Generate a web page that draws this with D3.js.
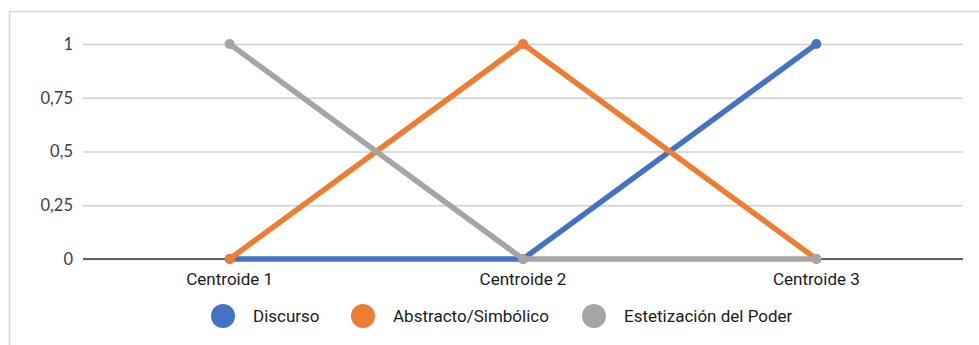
<!DOCTYPE html>
<html>
<head>
<meta charset="utf-8">
<script src="https://cdn.jsdelivr.net/npm/d3@7"></script>
<style>
  html, body { margin: 0; padding: 0; background: #fff; }
  svg { display: block; }
</style>
</head>
<body>
<svg id="chart" width="979" height="345"></svg>
<script>
// Categories along the x axis
const categories = ["Centroide 1", "Centroide 2", "Centroide 3"];

// Series names and their values per centroid
const seriesNames = ["Discurso", "Abstracto/Simbólico", "Estetización del Poder"];
const discurso = [0, 0, 1];
const abstracto = [0, 1, 0];
const estetizacion = [1, 0, 0];
const seriesColors = ["#4472C4", "#ED7D31", "#A5A5A5"];

// Y axis ticks and their labels
const yTicks = [0, 0.25, 0.5, 0.75, 1];
const yTickLabels = ["0", "0,25", "0,5", "0,75", "1"];

const series = [discurso, abstracto, estetizacion].map((values, i) => ({
  name: seriesNames[i],
  color: seriesColors[i],
  values
}));

const svg = d3.select("#chart");
const W = 979, H = 345;
const plot = { left: 83, right: 963, top: 44, bottom: 259 };

// Frame around the chart area
svg.append("path")
  .attr("d", `M9.5,${H} L9.5,11.5 L${W},11.5`)
  .attr("fill", "none")
  .attr("stroke", "#d3d8de")
  .attr("stroke-width", 1.5);

const x = d3.scaleBand()
  .domain(categories)
  .range([plot.left, plot.right]);

const y = d3.scaleLinear()
  .domain([0, 1])
  .range([plot.bottom, plot.top]);

const cx = c => x(c) + x.bandwidth() / 2;

// Horizontal gridlines with labels
const yAxis = d3.axisLeft(y)
  .tickValues(yTicks)
  .tickFormat((d, i) => yTickLabels[i])
  .tickSize(-(plot.right - plot.left))
  .tickPadding(10);

const gy = svg.append("g")
  .attr("transform", `translate(${plot.left},0)`)
  .call(yAxis);
gy.select(".domain").remove();
gy.selectAll(".tick line")
  .attr("stroke", "#d0d0d0")
  .attr("stroke-width", 1.6);
gy.selectAll(".tick text")
  .attr("fill", "#404040")
  .style("font-family", "Lato, 'Liberation Sans', sans-serif")
  .style("font-size", "16.5px");

// Zero baseline
svg.append("line")
  .attr("x1", plot.left).attr("x2", plot.right)
  .attr("y1", y(0)).attr("y2", y(0))
  .attr("stroke", "#333")
  .attr("stroke-width", 1.6);

// Category labels
const xAxis = d3.axisBottom(x).tickSize(0).tickPadding(14);
const gx = svg.append("g")
  .attr("transform", `translate(0,${plot.bottom})`)
  .call(xAxis);
gx.select(".domain").remove();
gx.selectAll(".tick text")
  .attr("fill", "#1a1a1a")
  .style("font-family", "Roboto, 'Noto Sans', sans-serif")
  .style("font-size", "17px");

// Series lines with small round markers
const line = d3.line()
  .x((d, i) => cx(categories[i]))
  .y(d => y(d));

const gs = svg.append("g");
series.forEach(s => {
  gs.append("path")
    .datum(s.values)
    .attr("d", line)
    .attr("fill", "none")
    .attr("stroke", s.color)
    .attr("stroke-width", 5.5)
    .attr("stroke-linejoin", "round");
  gs.selectAll(null)
    .data(s.values)
    .enter()
    .append("circle")
    .attr("cx", (d, i) => cx(categories[i]))
    .attr("cy", d => y(d))
    .attr("r", 5)
    .attr("fill", s.color);
});

// Legend
const legendX = [223, 363, 594];
const lg = svg.append("g");
series.forEach((s, i) => {
  const g = lg.append("g").attr("transform", `translate(${legendX[i]},316)`);
  g.append("circle").attr("r", 12).attr("fill", s.color);
  g.append("text")
    .attr("x", 30)
    .attr("dy", "0.35em")
    .attr("fill", "#1a1a1a")
    .style("font-family", "Roboto, 'Noto Sans', sans-serif")
    .style("font-size", "17px")
    .text(s.name);
});
</script>
</body>
</html>
